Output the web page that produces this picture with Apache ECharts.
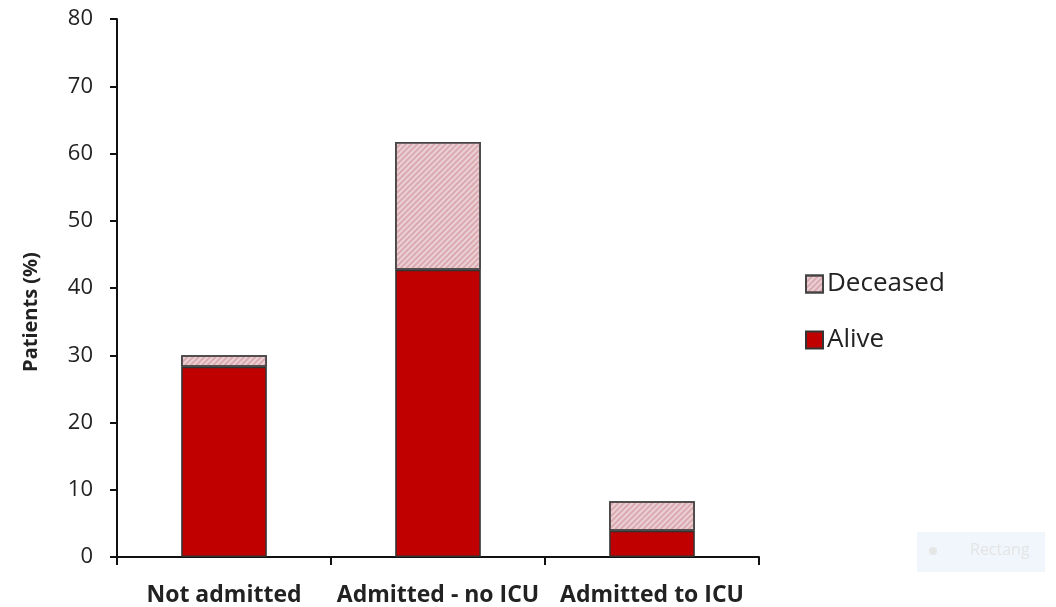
<!DOCTYPE html>
<html><head><meta charset="utf-8">
<script src="https://cdn.jsdelivr.net/npm/echarts@6/dist/echarts.min.js"></script>
<style>html,body{margin:0;padding:0;background:#fff}#c{width:1056px;height:607px}</style>
</head><body><div id="c"></div>
<script>
const categories = ['Not admitted', 'Admitted - no ICU', 'Admitted to ICU'];
const alive = [28.3, 42.7, 3.9];
const deceased = [1.7, 19.0, 4.4];
const yTicks = [0, 10, 20, 30, 40, 50, 60, 70, 80];

const chart = echarts.init(document.getElementById('c'));
const font = 'Open Sans, Liberation Sans, sans-serif';
chart.setOption({
  animation: false,
  backgroundColor: '#fff',
  grid: {left: 117, top: 19, right: 297, bottom: 50},
  legend: {
    orient: 'vertical', left: 800, top: 266, itemGap: 30,
    itemWidth: 17, itemHeight: 17, icon: 'rect',
    data: ['Deceased', 'Alive'],
    textStyle: {fontFamily: font, fontSize: 26, color: '#222', padding: [0,0,0,-1]}
  },
  xAxis: {
    type: 'category', data: categories,
    axisLine: {lineStyle: {color: '#111', width: 2}},
    axisTick: {show: true, interval: 0, alignWithLabel: false, length: 8, lineStyle: {color: '#111', width: 2}},
    axisLabel: {interval: 0, fontFamily: font, fontWeight: 'bold', fontSize: 23, color: '#222', margin: 27}
  },
  yAxis: {
    type: 'value', min: yTicks[0], max: yTicks[yTicks.length-1], interval: 10,
    name: 'Patients (%)', nameLocation: 'middle', nameGap: 76, nameRotate: 90,
    nameTextStyle: {fontFamily: font, fontWeight: 'bold', fontSize: 20, color: '#222', padding: [0,0,0,-48]},
    splitLine: {show: false},
    axisLine: {show: true, lineStyle: {color: '#111', width: 2}},
    axisTick: {show: true, length: 7, lineStyle: {color: '#111', width: 2}},
    axisLabel: {fontFamily: font, fontSize: 22, color: '#222', margin: 24}
  },
  series: [
    {name: 'Alive', type: 'bar', stack: 's', data: alive, barWidth: '40%',
     itemStyle: {color: '#c00000', borderColor: '#333', borderWidth: 1.5}},
    {name: 'Deceased', type: 'bar', stack: 's', data: deceased, barWidth: '40%',
     itemStyle: {color: '#ecd1d4', borderColor: '#444', borderWidth: 1.5,
       decal: {symbol: 'rect', dashArrayX: [1, 0], dashArrayY: [1.2, 1.8], rotation: -Math.PI/4, color: 'rgba(195,120,135,0.45)', symbolSize: 1}}}
  ],
  graphic: [
    {type: 'rect', left: 917, top: 532, shape: {width: 128, height: 40}, style: {fill: '#f1f6fd'}, silent: true},
    {type: 'circle', left: 929, top: 547, shape: {r: 4}, style: {fill: '#e6e6e6'}, silent: true},
    {type: 'text', left: 970, top: 542, style: {text: 'Rectang', fill: '#e4e4e4', font: '16px Open Sans, sans-serif'}, silent: true}
  ]
});
</script></body></html>
